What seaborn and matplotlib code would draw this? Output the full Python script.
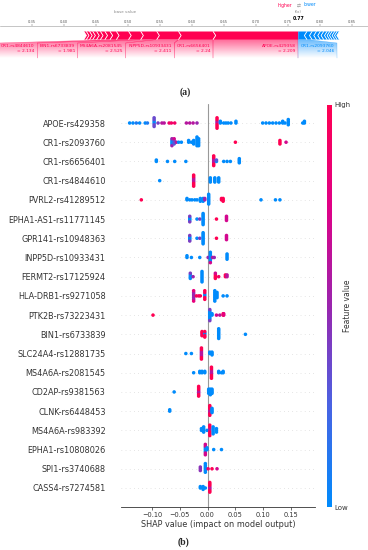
"""SHAP force plot (a) and beeswarm summary (b) for the AD SNP model."""

import warnings

import matplotlib
matplotlib.use("Agg")
import matplotlib.pyplot as plt
import numpy as np
import pandas as pd
import seaborn as sns
from matplotlib.cm import ScalarMappable
from matplotlib.colors import LinearSegmentedColormap, Normalize
from matplotlib.patches import Polygon

warnings.filterwarnings("ignore")

# ---------------------------------------------------------------------------
# Data: force plot (a)
# ---------------------------------------------------------------------------

f_x = 0.766
# positive contributions, from f(x) outwards (largest first)
pos_names = ["APOE-rs429358", "CR1-rs6656401", "INPP5D-rs10933431",
             "MS4A6A-rs2081545", "BIN1-rs6733839", "CR1-rs4844610"]
pos_values = ["2.209", "2.24", "2.411", "2.525", "1.981", "2.134"]
pos_effects = [0.133, 0.054, 0.034, 0.025, 0.019, 0.019,
               0.010, 0.008, 0.007, 0.006, 0.006, 0.005, 0.005, 0.004]
# negative contributions
neg_names = ["CR1-rs2093760"]
neg_values = ["2.046"]
neg_effects = [0.0136, 0.0080, 0.0067, 0.0062, 0.0052, 0.0053,
               0.0041, 0.0037, 0.0041, 0.0037, 0.0036]
force_ticks = [0.35, 0.40, 0.45, 0.50, 0.55, 0.60, 0.65, 0.70, 0.75, 0.80, 0.85]

# ---------------------------------------------------------------------------
# Data: beeswarm (b) -- (shap value, number of points, feature value 0..1)
# ---------------------------------------------------------------------------

features = [
    "APOE-rs429358", "CR1-rs2093760", "CR1-rs6656401", "CR1-rs4844610",
    "PVRL2-rs41289512", "EPHA1-AS1-rs11771145", "GPR141-rs10948363",
    "INPP5D-rs10933431", "FERMT2-rs17125924", "HLA-DRB1-rs9271058",
    "PTK2B-rs73223431", "BIN1-rs6733839", "SLC24A4-rs12881735",
    "MS4A6A-rs2081545", "CD2AP-rs9381563", "CLNK-rs6448453",
    "MS4A6A-rs983392", "EPHA1-rs10808026", "SPI1-rs3740688", "CASS4-rs7274581",
]

apoe_rs429358 = [
    (-0.140, 1, 0.0), (-0.134, 1, 0.0), (-0.128, 1, 0.1), (-0.122, 1, 0.0),
    (-0.112, 1, 0.0), (-0.108, 1, 0.1), (-0.096, 2, 0.0), (-0.096, 4, 0.35),
    (-0.089, 1, 0.4), (-0.082, 1, 0.6), (-0.078, 1, 0.6), (-0.069, 1, 0.9),
    (-0.065, 1, 0.9), (-0.059, 1, 0.9), (-0.038, 1, 0.6), (-0.032, 1, 0.6),
    (-0.026, 1, 0.6), (-0.019, 1, 0.5), (0.017, 2, 0.6), (0.017, 5, 1.0),
    (0.023, 2, 0.0), (0.029, 1, 0.0), (0.033, 1, 0.0), (0.037, 1, 0.0),
    (0.042, 1, 0.0), (0.051, 2, 0.0), (0.099, 1, 0.0), (0.105, 1, 0.0),
    (0.111, 1, 0.0), (0.117, 1, 0.0), (0.123, 1, 0.0), (0.129, 1, 0.0),
    (0.135, 2, 0.0), (0.139, 1, 0.0), (0.145, 4, 0.0), (0.171, 1, 0.0),
    (0.174, 2, 0.0),
]
cr1_rs2093760 = [
    (-0.064, 3, 0.0), (-0.064, 2, 0.5), (-0.060, 3, 0.3), (-0.060, 1, 0.7),
    (-0.056, 1, 0.6), (-0.052, 1, 0.0), (-0.047, 1, 0.0), (-0.034, 2, 0.0),
    (-0.029, 1, 0.0), (-0.025, 3, 0.0), (-0.019, 6, 0.0), (-0.016, 5, 0.0),
    (0.050, 1, 1.0), (0.130, 3, 1.0), (0.141, 1, 0.7),
]
cr1_rs6656401 = [
    (-0.092, 2, 0.0), (-0.072, 1, 0.0), (-0.059, 1, 0.0), (-0.039, 1, 0.0),
    (0.011, 4, 0.6), (0.011, 4, 1.0), (0.016, 1, 0.0), (0.016, 1, 0.3),
    (0.029, 1, 0.0), (0.035, 1, 0.0), (0.041, 1, 0.0), (0.057, 4, 0.0),
]
cr1_rs4844610 = [
    (-0.086, 1, 0.0), (-0.025, 4, 0.6), (-0.025, 5, 1.0),
    (0.005, 4, 0.0), (0.013, 4, 0.0), (0.020, 4, 0.0),
]
pvrl2_rs41289512 = [
    (-0.119, 1, 1.0), (-0.037, 2, 0.0), (-0.032, 1, 0.0), (-0.028, 1, 0.0),
    (-0.023, 1, 0.0), (-0.019, 1, 0.0), (-0.013, 3, 0.0), (-0.008, 3, 0.0),
    (-0.005, 2, 0.5), (0.002, 8, 0.0), (0.025, 2, 1.0), (0.028, 3, 1.0),
    (0.096, 1, 0.0), (0.122, 1, 0.0), (0.130, 1, 0.0),
]
epha1_as1_rs11771145 = [
    (-0.032, 3, 0.0), (-0.032, 2, 0.4), (-0.019, 1, 0.0), (-0.014, 1, 0.4),
    (-0.008, 9, 0.0), (0.016, 1, 1.0), (0.034, 4, 0.7),
]
gpr141_rs10948363 = [
    (-0.032, 3, 0.0), (-0.032, 2, 0.4), (-0.019, 1, 0.0), (-0.014, 1, 0.4),
    (-0.008, 9, 0.0), (0.016, 1, 1.0), (0.034, 4, 0.7),
]
inpp5d_rs10933431 = [
    (-0.037, 2, 0.0), (-0.029, 1, 0.0), (-0.014, 1, 0.0), (0.001, 1, 0.5),
    (0.005, 6, 0.0), (0.005, 1, 0.7), (0.009, 1, 0.6), (0.012, 1, 0.5),
    (0.035, 4, 0.0),
]
fermt2_rs17125924 = [
    (-0.031, 3, 0.0), (-0.031, 1, 0.4), (-0.026, 1, 0.5), (-0.010, 7, 0.0),
    (0.014, 3, 1.0), (0.014, 1, 0.7), (0.020, 1, 0.9), (0.032, 2, 1.0),
    (0.035, 2, 0.6),
]
hla_drb1_rs9271058 = [
    (-0.025, 5, 0.5), (-0.025, 2, 0.8), (-0.020, 1, 1.0), (-0.016, 1, 0.9),
    (-0.013, 1, 1.0), (-0.005, 2, 0.0), (-0.005, 4, 1.0), (0.013, 7, 0.0),
    (0.017, 4, 0.0), (0.028, 1, 0.0), (0.035, 1, 0.0),
]
ptk2b_rs73223431 = [
    (-0.098, 1, 1.0), (0.004, 7, 0.0), (0.004, 2, 0.4), (0.008, 2, 0.0),
    (0.016, 1, 0.7), (0.022, 1, 0.6), (0.028, 2, 1.0), (0.029, 2, 0.8),
]
bin1_rs6733839 = [
    (-0.010, 1, 0.5), (-0.010, 3, 1.0), (-0.005, 2, 0.0), (-0.005, 3, 1.0),
    (0.020, 8, 0.0), (0.068, 1, 0.0),
]
slc24a4_rs12881735 = [
    (-0.039, 1, 0.0), (-0.029, 1, 0.0), (-0.011, 5, 0.6), (-0.011, 4, 1.0),
    (0.004, 2, 0.0), (0.008, 3, 0.0),
]
ms4a6a_rs2081545 = [
    (-0.025, 1, 0.0), (-0.014, 2, 0.0), (-0.010, 2, 0.0), (-0.005, 2, 0.0),
    (0.007, 4, 0.6), (0.007, 5, 1.0), (0.020, 2, 0.0), (0.025, 1, 0.0),
    (0.028, 2, 0.0),
]
cd2ap_rs9381563 = [
    (-0.060, 1, 0.0), (-0.016, 3, 0.6), (-0.016, 5, 1.0),
    (0.002, 4, 0.0), (0.005, 5, 0.0), (0.008, 4, 0.0),
]
clnk_rs6448453 = [
    (-0.068, 2, 0.0), (0.004, 3, 0.6), (0.004, 5, 1.0), (0.008, 4, 0.0),
]
ms4a6a_rs983392 = [
    (-0.011, 2, 0.0), (-0.007, 4, 0.0), (-0.001, 1, 0.0), (0.004, 2, 0.6),
    (0.004, 5, 1.0), (0.010, 5, 0.0), (0.016, 3, 0.0),
]
epha1_rs10808026 = [
    (-0.004, 3, 0.0), (-0.004, 4, 0.7), (-0.001, 2, 0.0),
    (0.011, 1, 0.0), (0.025, 1, 0.0),
]
spi1_rs3740688 = [
    (-0.013, 3, 0.45), (-0.004, 6, 0.0), (0.001, 1, 0.9),
    (0.008, 1, 1.0), (0.017, 1, 0.7),
]
cass4_rs7274581 = [
    (-0.013, 2, 0.0), (-0.008, 3, 0.0), (-0.004, 1, 0.0),
    (0.004, 3, 0.6), (0.004, 5, 1.0),
]

clusters = [
    apoe_rs429358, cr1_rs2093760, cr1_rs6656401, cr1_rs4844610,
    pvrl2_rs41289512, epha1_as1_rs11771145, gpr141_rs10948363,
    inpp5d_rs10933431, fermt2_rs17125924, hla_drb1_rs9271058,
    ptk2b_rs73223431, bin1_rs6733839, slc24a4_rs12881735,
    ms4a6a_rs2081545, cd2ap_rs9381563, clnk_rs6448453,
    ms4a6a_rs983392, epha1_rs10808026, spi1_rs3740688, cass4_rs7274581,
]
shap_ticks = [-0.10, -0.05, 0.00, 0.05, 0.10, 0.15]

# ---------------------------------------------------------------------------
# Style
# ---------------------------------------------------------------------------

RED = "#ff0051"
BLUE = "#008bfb"
AXIS = "#333333"
cmap = LinearSegmentedColormap.from_list(
    "shap_red_blue", ["#008bfc", "#4963e3", "#9a25ae", "#e00086", "#ff0052"])

sns.set_theme(style="white")
plt.rcParams["font.family"] = ["DejaVu Sans"]

W, H = 368, 550
fig = plt.figure(figsize=(W / 100, H / 100), dpi=100)


def shap_layout(vals, row_height=0.4, nbins=100):
    """Vertical offsets the way shap's beeswarm stacks points in bins."""
    vals = np.asarray(vals, dtype=float)
    quant = np.round(nbins * (vals - vals.min()) / (vals.max() - vals.min() + 1e-8))
    ys = np.zeros(len(vals))
    layer, last = 0, None
    for i in np.argsort(quant, kind="stable"):
        if quant[i] != last:
            layer = 0
        ys[i] = np.ceil(layer / 2) * ((layer % 2) * 2 - 1)
        layer += 1
        last = quant[i]
    return ys * 0.9 * (row_height / np.max(ys + 1))


# ---------------------------------------------------------------------------
# (a) force plot
# ---------------------------------------------------------------------------

axf = fig.add_axes([0, 1 - 70 / H, 1, 70 / H])
axf.set_xlim(0.30, 0.30 + W / 640)
axf.set_ylim(70, 0)
axf.patch.set_alpha(0)
for side in ["left", "right", "bottom"]:
    axf.spines[side].set_visible(False)
axf.spines["top"].set_position(("data", 26))
axf.spines["top"].set_color("#999999")
axf.spines["top"].set_linewidth(0.4)
axf.xaxis.set_ticks_position("top")
axf.set_xticks(force_ticks)
axf.set_xticklabels([f"{t:.2f}" for t in force_ticks])
axf.tick_params(axis="x", labelsize=2.6, length=1.2, width=0.3, pad=0.4,
                colors="#555555")
axf.set_yticks([])

y0, y1 = 31.5, 39.5
ym = (y0 + y1) / 2
ind = 0.004
base_value = f_x - sum(pos_effects) + sum(neg_effects)

pos_edges = f_x - np.concatenate([[0], np.cumsum(pos_effects)])
neg_edges = f_x + np.concatenate([[0], np.cumsum(neg_effects)])

# red bars pointing right, stacked leftwards from f(x)
for i in range(len(pos_effects)):
    r, l = pos_edges[i], pos_edges[i + 1]
    tip = r if i == 0 else r + ind
    axf.add_patch(Polygon([(l, y0), (r, y0), (tip, ym), (r, y1), (l, y1), (l + ind, ym)],
                          closed=True, facecolor=RED, edgecolor="none", zorder=2))
for i in range(1, len(pos_edges)):
    x = pos_edges[i]
    axf.plot([x, x + ind, x], [y0, ym, y1], color="white", lw=0.6, zorder=3)

# blue bars pointing left, stacked rightwards from f(x)
for i in range(len(neg_effects)):
    l, r = neg_edges[i], neg_edges[i + 1]
    tip = l if i == 0 else l - ind
    axf.add_patch(Polygon([(l, y0), (r, y0), (r - ind, ym), (r, y1), (l, y1), (tip, ym)],
                          closed=True, facecolor=BLUE, edgecolor="none", zorder=2))
for i in range(1, len(neg_edges)):
    x = neg_edges[i]
    axf.plot([x, x - ind, x], [y0, ym, y1], color="white", lw=0.6, zorder=3)

fig.canvas.draw()
renderer = fig.canvas.get_renderer()
inv = axf.transData.inverted()
pad = 0.004
lab_top, box_top, box_bot = 44.5, 43, 58


def text_width(t):
    bb = t.get_window_extent(renderer)
    x0 = inv.transform((bb.x0, bb.y0))[0]
    x1 = inv.transform((bb.x1, bb.y0))[0]
    return x1 - x0


def connector(seg_l, seg_r, box_l, box_r, color):
    poly = Polygon([(seg_l, y1), (seg_r, y1), (box_r, box_top), (box_r, box_bot),
                    (box_l, box_bot), (box_l, box_top)],
                   closed=True, facecolor="none", edgecolor="none")
    axf.add_patch(poly)
    grad = np.zeros((60, 1, 4))
    grad[..., :3] = matplotlib.colors.to_rgb(color)
    grad[:, 0, 3] = np.linspace(0.6, 0.0, 60)
    im = axf.imshow(grad, extent=(0.30, 0.875, box_bot, y1), aspect="auto",
                    interpolation="bilinear", zorder=1)
    im.set_clip_path(poly)
    for xs, ys in [([seg_l, box_l, box_l], [y1, box_top, box_bot]),
                   ([seg_r, box_r, box_r], [y1, box_top, box_bot])]:
        axf.plot(xs, ys, color=color, lw=0.3, alpha=0.5, zorder=1)


limit = f_x
for i, (name, val) in enumerate(zip(pos_names, pos_values)):
    seg_r, seg_l = pos_edges[i], pos_edges[i + 1]
    box_r = min(seg_r, limit)
    t = axf.text(box_r - pad, lab_top, f"{name}\n= {val}", ha="right", va="top",
                 multialignment="right", fontsize=3.2, color=RED, linespacing=1.25)
    box_l = min(seg_l, box_r - 2 * pad - text_width(t))
    connector(seg_l, seg_r, box_l, box_r, RED)
    limit = box_l

for i, (name, val) in enumerate(zip(neg_names, neg_values)):
    seg_l, seg_r = neg_edges[i], neg_edges[i + 1]
    t = axf.text(seg_l, lab_top, f"{name}\n= {val}", ha="right", va="top",
                 multialignment="right", fontsize=3.2, color=BLUE, linespacing=1.25)
    box_r = max(seg_r, seg_l + 2 * pad + text_width(t))
    t.set_x(box_r - pad)
    connector(seg_l, seg_r, seg_l, box_r, BLUE)

axf.text(base_value, 12, "base value", ha="center", va="center", fontsize=2.9,
         color="#888888")
axf.text(f_x, 12, "f(x)", ha="center", va="center", fontsize=2.9, color="#888888")
axf.text(f_x, 18, f"{f_x:.2f}", ha="center", va="center", fontsize=3.4,
         color="black", fontweight="bold")
axf.text(f_x - 0.009, 5, "higher", ha="right", va="center", fontsize=3.3, color=RED)
axf.text(f_x, 5, "\u21c4", ha="center", va="center", fontsize=3.3, color="#888888")
axf.text(f_x + 0.009, 5, "lower", ha="left", va="center", fontsize=3.3, color=BLUE)

# ---------------------------------------------------------------------------
# (b) beeswarm summary
# ---------------------------------------------------------------------------

rows = []
n_feat = len(features)
for k, (name, clist) in enumerate(zip(features, clusters)):
    vals = [v for v, n, _ in clist for _ in range(n)]
    lvls = [c for _, n, c in clist for _ in range(n)]
    pos = n_feat - 1 - k
    offs = shap_layout(vals)
    rows.append(pd.DataFrame({"feature": name, "shap": vals, "level": lvls,
                              "y": pos + offs}))
swarm = pd.concat(rows, ignore_index=True)

ax = fig.add_axes([121 / W, 1 - 507.2 / H, 194 / W, 403.4 / H])
for pos in range(n_feat):
    ax.axhline(pos, color="#cccccc", lw=0.5, dashes=(1, 5), zorder=0)
ax.axvline(0, color="#999999", lw=0.8, zorder=1)
sns.scatterplot(data=swarm, x="shap", y="y", hue="level", palette=cmap,
                hue_norm=(0, 1), s=6.5, linewidth=0, legend=False, ax=ax, zorder=3)

ax.set_xlim(-0.1555, 0.193)
ax.set_ylim(-1, n_feat)
ax.set_yticks(range(n_feat))
ax.set_yticklabels(features[::-1])
ax.set_xticks(shap_ticks)
ax.set_xticklabels([f"{t:.2f}".replace("-", "\u2212") for t in shap_ticks])
for side in ["left", "top", "right"]:
    ax.spines[side].set_visible(False)
ax.spines["bottom"].set_color(AXIS)
ax.spines["bottom"].set_linewidth(0.6)
ax.tick_params(axis="y", length=0, pad=11, labelsize=5.9, labelcolor=AXIS)
ax.tick_params(axis="x", length=2, width=0.5, pad=1.2, labelsize=4.8,
               color=AXIS, labelcolor=AXIS, bottom=True)
ax.set_xlabel("SHAP value (impact on model output)", fontsize=5.9, color=AXIS,
              labelpad=2)
ax.set_ylabel("")

cax = fig.add_axes([327 / W, 1 - 507 / H, 5 / W, 402 / H])
cb = fig.colorbar(ScalarMappable(norm=Normalize(0, 1), cmap=cmap), cax=cax,
                  ticks=[0, 1])
cb.set_ticklabels(["Low", "High"])
cb.ax.tick_params(labelsize=5, length=0, pad=1.5, labelcolor=AXIS)
cb.outline.set_visible(False)
fig.text(348 / W, 1 - 306 / H, "Feature value", rotation=90, ha="center",
         va="center", fontsize=5.5, color=AXIS)

fig.text(185 / W, 1 - 92 / H, "(a)", ha="center", va="center", fontsize=7,
         family=["Liberation Serif", "DejaVu Serif"], fontweight="bold")
fig.text(184 / W, 1 - 542 / H, "(b)", ha="center", va="center", fontsize=7,
         family=["Liberation Serif", "DejaVu Serif"], fontweight="bold")

fig.savefig("out.png", dpi=100)
